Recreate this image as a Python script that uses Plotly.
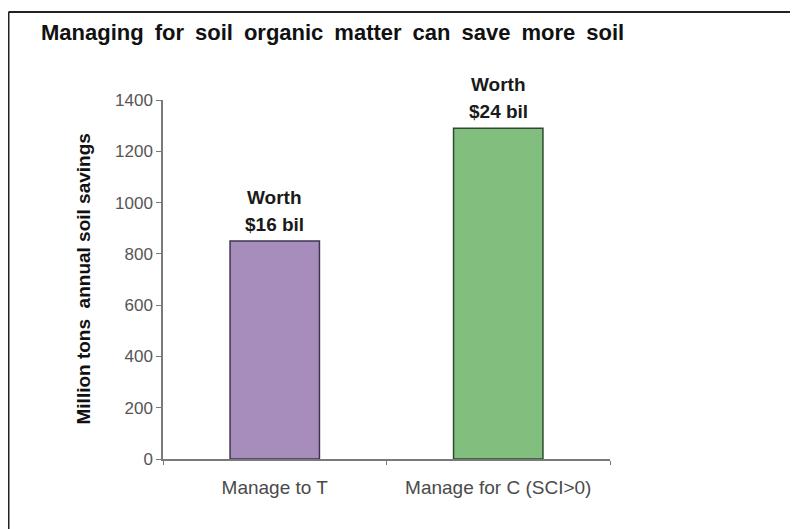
import plotly.graph_objects as go

categories = ["Manage to T", "Manage for C (SCI>0)"]
values = [850, 1290]
label_line1 = ["Worth", "Worth"]
label_line2 = ["$16 bil", "$24 bil"]
bar_colors = ["#a78dbb", "#82bf7e"]
bar_lines = ["#3d3550", "#2e4a2e"]
y_ticks = [0, 200, 400, 600, 800, 1000, 1200, 1400]
title_text = "Managing for soil organic matter can save more soil"
y_title = "Million tons  annual soil savings"

OFF = 8  # page body margin
W, H = 790, 521
L, R, T, B = 163 - OFF, 610 - OFF, 100 - OFF, 459 - OFF
FONT = "Liberation Sans, Arial"

fig = go.Figure()
fig.add_trace(go.Bar(
    x=categories, y=values,
    marker=dict(color=bar_colors, line=dict(color=bar_lines, width=1.5)),
    width=0.4, showlegend=False, hoverinfo="skip",
))

for c, v, t1, t2 in zip(categories, values, label_line1, label_line2):
    fig.add_annotation(x=c, y=v, xref="x", yref="y", text="<b>" + t1 + "</b>", showarrow=False,
                       yanchor="middle", yshift=44,
                       font=dict(family=FONT, size=19, color="#1a1a1a"))
    fig.add_annotation(x=c, y=v, xref="x", yref="y", text="<b>" + t2 + "</b>", showarrow=False,
                       yanchor="middle", yshift=17,
                       font=dict(family=FONT, size=19, color="#1a1a1a"))

pw, ph = R - L, B - T
def px(x):
    return (x - OFF - L) / pw
def py(y):
    return (B - (y - OFF)) / ph

# outer frame (top and left edges visible)
fig.add_shape(type="line", xref="paper", yref="paper", x0=px(8.5), x1=px(810), y0=py(12), y1=py(12),
              line=dict(color="#222222", width=2))
fig.add_shape(type="line", xref="paper", yref="paper", x0=px(8.5), x1=px(8.5), y0=py(12), y1=py(540),
              line=dict(color="#222222", width=2))

fig.add_annotation(xref="paper", yref="paper", x=px(39), y=py(33), xanchor="left", yanchor="middle",
                   text="<b>" + title_text.replace(" ", "\u2002") + "</b>", showarrow=False,
                   font=dict(family=FONT, size=22, color="#111111"))

fig.add_annotation(xref="paper", yref="paper", x=px(83), y=0.5, xanchor="center", yanchor="middle",
                   text="<b>" + y_title + "</b>", showarrow=False, textangle=-90,
                   font=dict(family=FONT, size=19, color="#111111"))

fig.update_layout(
    width=W, height=H,
    margin=dict(l=L, r=W - R, t=T, b=H - B, pad=0),
    paper_bgcolor="white", plot_bgcolor="white",
    xaxis=dict(type="category", range=[-0.5, 1.5], showline=True, linecolor="#7a7a7a", linewidth=1.5,
               ticks="outside", tickson="boundaries", ticklen=4, tickcolor="#7a7a7a",
               showgrid=False, zeroline=False, ticklabelstandoff=10,
               tickfont=dict(family=FONT, size=19, color="#4a4a4a")),
    yaxis=dict(range=[0, 1400], tickvals=y_ticks, showline=True, linecolor="#7a7a7a", linewidth=1.5,
               ticks="outside", ticklen=5, tickcolor="#7a7a7a", showgrid=False, zeroline=False,
               tickfont=dict(family=FONT, size=17, color="#555555")),
)

fig.write_html("out.html")
